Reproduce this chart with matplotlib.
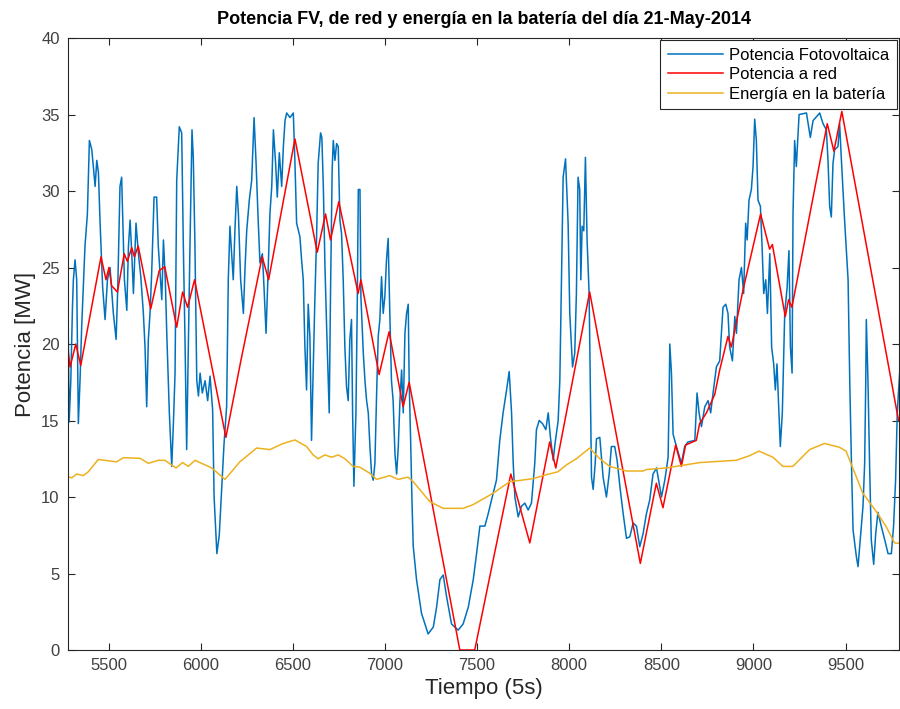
import numpy as np
from matplotlib import pyplot as plt

plt.rcParams['font.family'] = ['Liberation Sans', 'DejaVu Sans']

# Potencia fotovoltaica (MW)
pv_x = [5280, 5285, 5294, 5303, 5308, 5317, 5326, 5335, 5344, 5353, 5362, 5371, 5384, 5395, 5408,
        5426, 5435, 5444, 5453, 5467, 5480, 5493, 5507, 5525, 5540, 5549, 5561, 5570, 5585, 5598,
        5607, 5616, 5625, 5634, 5648, 5661, 5674, 5688, 5697, 5706, 5715, 5724, 5733, 5746, 5760,
        5769, 5788, 5797, 5807, 5815, 5829, 5842, 5851, 5860, 5869, 5883, 5896, 5905, 5914, 5923,
        5932, 5941, 5952, 5959, 5968, 5978, 5987, 5996, 6008, 6023, 6037, 6050, 6064, 6072, 6087,
        6100, 6113, 6126, 6140, 6149, 6158, 6167, 6176, 6185, 6195, 6204, 6216, 6231, 6240, 6249,
        6263, 6276, 6289, 6300, 6310, 6321, 6334, 6343, 6354, 6366, 6375, 6385, 6394, 6406, 6415,
        6426, 6439, 6448, 6457, 6466, 6484, 6502, 6511, 6520, 6538, 6547, 6556, 6565, 6574, 6583,
        6592, 6601, 6610, 6619, 6628, 6637, 6650, 6657, 6665, 6674, 6683, 6692, 6697, 6704, 6713,
        6719, 6728, 6737, 6746, 6755, 6764, 6773, 6782, 6791, 6800, 6809, 6818, 6824, 6831, 6842,
        6849, 6855, 6864, 6869, 6882, 6891, 6900, 6909, 6918, 6927, 6936, 6945, 6954, 6963, 6972,
        6981, 6990, 6999, 7008, 7017, 7026, 7035, 7044, 7054, 7063, 7072, 7081, 7090, 7099, 7108,
        7117, 7126, 7131, 7139, 7146, 7153, 7171, 7198, 7234, 7262, 7280, 7298, 7316, 7334, 7361,
        7397, 7424, 7452, 7479, 7497, 7515, 7542, 7560, 7578, 7605, 7623, 7641, 7660, 7674, 7687,
        7696, 7705, 7723, 7741, 7759, 7777, 7795, 7813, 7822, 7837, 7855, 7873, 7886, 7898, 7913,
        7922, 7940, 7949, 7967, 7980, 7994, 8003, 8018, 8030, 8039, 8048, 8057, 8063, 8070, 8079,
        8088, 8097, 8108, 8121, 8130, 8141, 8148, 8166, 8184, 8202, 8217, 8229, 8247, 8260, 8275,
        8293, 8311, 8329, 8347, 8365, 8383, 8401, 8419, 8437, 8455, 8474, 8488, 8501, 8519, 8537,
        8543, 8546, 8555, 8564, 8582, 8609, 8627, 8645, 8682, 8694, 8705, 8718, 8736, 8754, 8768,
        8781, 8799, 8817, 8835, 8850, 8862, 8871, 8886, 8899, 8908, 8922, 8935, 8947, 8958, 8966,
        8976, 8989, 8998, 9007, 9016, 9025, 9038, 9047, 9056, 9067, 9076, 9089, 9099, 9110, 9119,
        9128, 9139, 9146, 9157, 9170, 9183, 9193, 9201, 9210, 9215, 9224, 9233, 9248, 9288, 9309,
        9324, 9360, 9378, 9396, 9405, 9414, 9423, 9432, 9441, 9459, 9468, 9477, 9495, 9514, 9523,
        9532, 9541, 9559, 9568, 9577, 9595, 9604, 9610, 9613, 9622, 9631, 9640, 9653, 9664, 9676,
        9694, 9713, 9731, 9749, 9761, 9772, 9781, 9794]
pv_y = [20.9, 14.9, 17.6, 22.4, 24.2, 25.5, 24.2, 14.8, 17.6, 21.1, 23.7, 26.4, 28.5, 33.3, 32.7,
        30.3, 32.0, 31.2, 27.9, 23.7, 21.6, 24.2, 25.0, 22.0, 20.3, 23.7, 30.3, 30.9, 24.2, 22.2,
        26.4, 28.1, 25.9, 23.3, 27.9, 25.9, 24.4, 22.0, 19.8, 15.9, 20.3, 22.0, 24.6, 29.6, 29.6,
        26.4, 22.9, 26.8, 24.2, 20.7, 15.5, 12.0, 14.8, 18.1, 30.7, 34.2, 33.8, 26.4, 20.3, 13.1,
        19.8, 26.4, 34.0, 32.2, 26.4, 17.6, 16.6, 18.1, 16.8, 17.6, 16.3, 17.9, 15.7, 10.0, 6.3,
        7.5, 10.5, 13.5, 15.9, 24.2, 27.7, 25.9, 24.2, 27.4, 30.3, 28.5, 24.2, 22.0, 25.0, 27.4,
        29.4, 30.7, 34.8, 31.8, 28.5, 25.3, 25.9, 23.7, 20.7, 25.0, 28.5, 30.3, 34.0, 31.8, 29.6,
        32.5, 30.3, 32.9, 34.6, 35.1, 34.8, 35.1, 31.8, 27.9, 27.0, 25.5, 24.2, 19.8, 17.0, 22.6,
        20.5, 13.7, 18.3, 22.9, 26.8, 31.8, 33.8, 33.5, 30.3, 25.0, 21.1, 17.6, 15.5, 23.3, 31.4,
        33.3, 32.0, 33.1, 32.9, 28.1, 27.2, 24.2, 19.8, 17.2, 16.3, 20.3, 21.6, 15.5, 10.7, 15.5,
        22.4, 30.1, 30.1, 23.1, 19.4, 17.6, 16.3, 15.5, 13.3, 11.5, 11.1, 12.2, 16.6, 20.5, 21.6,
        24.4, 22.0, 23.1, 25.5, 26.9, 22.0, 17.6, 16.3, 12.8, 11.5, 13.3, 16.3, 18.3, 15.5, 20.7,
        22.0, 22.6, 17.6, 13.7, 9.9, 6.8, 4.6, 2.4, 1.05, 1.5, 2.8, 4.6, 4.9, 3.5, 1.7,
        1.3, 1.7, 2.8, 4.6, 6.3, 8.1, 8.1, 8.9, 9.8, 11.1, 13.7, 15.5, 17.0, 18.2, 15.5,
        12.2, 10.0, 8.7, 9.4, 9.6, 9.15, 9.6, 12.2, 14.4, 15.0, 14.8, 14.4, 15.5, 13.9, 12.4,
        13.4, 15.0, 17.6, 30.9, 32.1, 27.9, 22.0, 18.5, 19.4, 23.3, 30.9, 30.1, 24.2, 27.7, 27.4,
        32.2, 26.8, 23.3, 11.3, 10.5, 12.2, 13.8, 13.9, 11.3, 10.0, 11.5, 13.3, 13.3, 12.4, 10.7,
        8.9, 7.3, 7.4, 8.3, 8.1, 6.75, 7.6, 8.9, 9.8, 11.5, 11.9, 10.9, 10.0, 11.1, 12.6,
        17.0, 20.0, 18.1, 14.1, 13.3, 12.2, 13.3, 13.6, 13.7, 16.8, 15.5, 14.6, 15.9, 16.3, 15.5,
        16.8, 18.5, 18.9, 22.4, 22.6, 22.0, 19.8, 18.9, 21.8, 20.7, 24.2, 25.0, 23.3, 27.9, 26.8,
        29.4, 30.1, 31.6, 34.7, 33.3, 29.4, 29.0, 26.4, 23.3, 24.2, 22.0, 25.9, 19.8, 18.7, 17.0,
        18.7, 15.5, 13.3, 15.5, 22.0, 23.7, 26.1, 19.8, 18.1, 28.5, 33.3, 31.6, 35.0, 35.1, 33.5,
        34.6, 35.1, 34.4, 34.0, 32.0, 29.0, 28.3, 31.8, 32.7, 32.9, 34.4, 32.2, 28.1, 24.2, 17.6,
        12.4, 7.85, 6.1, 5.45, 6.75, 9.4, 12.2, 17.6, 21.6, 17.6, 12.0, 7.2, 5.6, 7.6, 9.0,
        8.1, 7.2, 6.3, 6.3, 8.1, 11.1, 15.5, 18.1]

# Potencia a red (MW)
red_x = [5281, 5290, 5321, 5348, 5458, 5485, 5501, 5516, 5547, 5584, 5601, 5625, 5639, 5660, 5728,
         5774, 5804, 5869, 5901, 5928, 5966, 6136, 6218, 6333, 6368, 6511, 6632, 6677, 6704, 6749,
         6854, 6869, 6968, 7022, 7098, 7131, 7406, 7487, 7683, 7786, 7894, 7927, 8111, 8386, 8473,
         8509, 8578, 8609, 8632, 8690, 8708, 8745, 8790, 8817, 8862, 8880, 8943, 9039, 9088, 9103,
         9173, 9191, 9209, 9401, 9437, 9480, 9788]
red_y = [19.4, 18.5, 20.0, 18.6, 25.7, 24.2, 25.0, 23.8, 23.4, 25.9, 25.4, 26.3, 25.7, 26.4, 22.3,
         24.8, 25.05, 21.1, 23.4, 22.4, 24.2, 13.9, 18.95, 25.7, 24.2, 33.4, 26.0, 28.5, 26.8, 29.3,
         23.3, 24.2, 18.0, 20.8, 15.9, 17.5, 0.0, 0.0, 11.5, 7.0, 13.6, 11.9, 23.4, 5.66, 10.9,
         9.3, 13.4, 12.0, 13.4, 13.7, 14.8, 15.5, 16.7, 18.3, 20.5, 19.8, 23.5, 28.5, 26.2, 26.5,
         21.8, 22.9, 22.4, 34.4, 32.6, 35.2, 15.0]

# Energia en la bateria
bat_x = [5281, 5299, 5326, 5362, 5389, 5443, 5543, 5579, 5670, 5715, 5769, 5805, 5865, 5901, 5932,
         5968, 6059, 6131, 6212, 6303, 6375, 6447, 6511, 6574, 6610, 6637, 6673, 6710, 6746, 6782,
         6827, 6863, 6918, 6954, 7026, 7071, 7125, 7153, 7243, 7315, 7424, 7478, 7587, 7677, 7804,
         7876, 7939, 7985, 8039, 8111, 8166, 8220, 8310, 8401, 8419, 8527, 8708, 8907, 8979, 9030,
         9106, 9160, 9214, 9305, 9386, 9467, 9503, 9594, 9667, 9721, 9766, 9793]
bat_y = [11.33, 11.25, 11.5, 11.4, 11.65, 12.45, 12.3, 12.57, 12.53, 12.2, 12.4, 12.4, 11.9, 12.25, 12.0,
         12.4, 11.9, 11.15, 12.3, 13.2, 13.1, 13.5, 13.73, 13.3, 12.75, 12.5, 12.75, 12.6, 12.75, 12.5,
         12.0, 11.95, 11.55, 11.15, 11.4, 11.15, 11.3, 11.0, 9.7, 9.26, 9.26, 9.5, 10.25, 11.0, 11.2,
         11.46, 11.65, 12.1, 12.5, 13.2, 12.5, 12.0, 11.7, 11.7, 11.8, 11.9, 12.25, 12.4, 12.7, 13.0,
         12.6, 12.0, 12.0, 13.1, 13.5, 13.25, 13.0, 10.25, 9.05, 8.06, 7.0, 6.97]

x_ticks = [5500, 6000, 6500, 7000, 7500, 8000, 8500, 9000, 9500]
y_ticks = [0, 5, 10, 15, 20, 25, 30, 35, 40]

fig = plt.figure(figsize=(9, 7.09), dpi=100)
ax = fig.add_axes([0.0756, 0.0832, 0.9234, 0.8632])

ax.plot(pv_x, pv_y, color='#0072BD', lw=1.1, label='Potencia Fotovoltaica')
ax.plot(red_x, red_y, color='#FF0000', lw=1.1, label='Potencia a red')
ax.plot(bat_x, bat_y, color='#EDB120', lw=1.1, label='Energía en la batería')

ax.set_xlim(5279, 9791)
ax.set_ylim(0, 40)
ax.set_xticks(x_ticks)
ax.set_yticks(y_ticks)

dark = '#262626'
for s in ax.spines.values():
    s.set_color(dark)
    s.set_linewidth(0.8)
ax.tick_params(direction='in', length=5, width=0.8, colors=dark, labelsize=12,
               top=True, right=True, pad=6)
for lab in ax.get_xticklabels() + ax.get_yticklabels():
    lab.set_color('#404040')

ax.set_xlabel('Tiempo (5s)', fontsize=16, color='#262626', labelpad=3)
ax.set_ylabel('Potencia [MW]', fontsize=16, color='#262626', labelpad=4)
ax.set_title('Potencia FV, de red y energía en la batería del día 21-May-2014',
             fontsize=13, fontweight='bold', color='black', pad=10)

leg = ax.legend(loc='upper right', fontsize=12, handlelength=3.3, handletextpad=0.4,
                labelspacing=0.27, borderpad=0.45, borderaxespad=0.12, fancybox=False,
                framealpha=1, edgecolor=dark)
leg.get_frame().set_linewidth(0.8)

fig.savefig('out.png', dpi=100)
